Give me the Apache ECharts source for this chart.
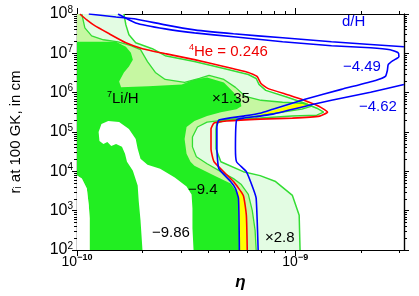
<!DOCTYPE html>
<html><head><meta charset="utf-8">
<script src="https://cdn.jsdelivr.net/npm/echarts@6/dist/echarts.min.js"></script>
<style>html,body{margin:0;padding:0;background:#fff}#c{width:419px;height:296px}</style>
</head><body><div id="c"></div>
<script>
// All contour points are [log10(eta), log10(r_i / cm)]
const li28Contour = [[-9.785,8.000],[-9.776,7.723],[-9.762,7.471],[-9.731,7.269],[-9.655,7.118],[-9.596,6.941],[-9.462,6.790],[-9.327,6.614],[-9.215,6.462],[-9.179,6.361],[-9.166,6.210],[-9.135,6.059],[-9.036,5.883],[-8.969,5.756],[-8.901,5.605],[-8.870,5.504],[-8.901,5.429],[-9.013,5.404],[-9.161,5.353],[-9.314,5.303],[-9.359,5.227],[-9.363,5.076],[-9.363,4.572],[-9.341,4.244],[-9.238,3.992],[-9.161,3.891],[-9.090,3.740],[-9.013,3.387],[-8.982,2.883],[-8.978,2.000]];
const li135Contour = [[-9.978,8.000],[-9.964,7.647],[-9.933,7.445],[-9.879,7.345],[-9.812,7.294],[-9.753,7.193],[-9.709,7.093],[-9.677,6.790],[-9.641,6.513],[-9.596,6.336],[-9.507,6.261],[-9.439,6.361],[-9.395,6.437],[-9.327,6.336],[-9.274,6.135],[-9.229,5.908],[-9.157,5.807],[-9.058,5.756],[-8.969,5.731],[-8.924,5.656],[-8.969,5.580],[-9.058,5.504],[-9.148,5.429],[-9.238,5.353],[-9.327,5.303],[-9.404,5.252],[-9.448,5.126],[-9.471,4.874],[-9.471,4.622],[-9.453,4.370],[-9.404,4.194],[-9.341,3.992],[-9.283,3.815],[-9.247,3.664],[-9.215,3.412],[-9.197,3.009],[-9.184,2.505],[-9.179,2.000]];
const liObsRegion = [[-10,7.294],[-9.821,7.294],[-9.776,7.168],[-9.753,7.017],[-9.744,6.840],[-9.762,6.664],[-9.785,6.513],[-9.807,6.286],[-9.798,6.135],[-9.673,6.160],[-9.520,6.210],[-9.462,6.336],[-9.404,6.387],[-9.327,6.261],[-9.283,6.009],[-9.251,5.782],[-9.247,5.656],[-9.269,5.580],[-9.341,5.504],[-9.404,5.404],[-9.462,5.278],[-9.498,5.126],[-9.507,4.824],[-9.498,4.446],[-9.480,4.244],[-9.462,4.143],[-9.372,3.891],[-9.296,3.689],[-9.269,3.488],[-9.260,3.311],[-9.256,2.000],[-9.942,2.000],[-9.942,2.807],[-9.946,3.135],[-9.955,3.563],[-9.978,3.815],[-10,3.891]];
const liLowHole = [[-9.901,5.000],[-9.888,5.202],[-9.857,5.278],[-9.807,5.252],[-9.762,5.076],[-9.731,4.824],[-9.722,4.572],[-9.709,4.320],[-9.677,4.168],[-9.619,4.068],[-9.552,3.841],[-9.498,3.614],[-9.475,3.412],[-9.471,3.059],[-9.471,2.555],[-9.466,2.000],[-9.700,2.000],[-9.709,2.757],[-9.717,3.236],[-9.722,3.639],[-9.744,4.017],[-9.771,4.244],[-9.780,4.446],[-9.794,4.622],[-9.821,4.698],[-9.843,4.647],[-9.861,4.748],[-9.879,4.698],[-9.897,4.773]];
const liLowCorner = [[-10,3.891],[-9.978,3.815],[-9.955,3.563],[-9.946,3.135],[-9.942,2.807],[-9.942,2.000],[-10,2.000]];
const allowedLow = [[-9.269,3.488],[-9.242,3.488],[-9.229,3.185],[-9.224,2.555],[-9.224,2.000],[-9.256,2.000],[-9.260,3.311]];
const allowedHigh = [[-9.161,5.454],[-9.081,5.580],[-8.991,5.731],[-8.937,5.756],[-8.955,5.630],[-9.036,5.555],[-9.126,5.454],[-9.161,5.404]];
const he246 = [[-9.987,8.000],[-9.955,7.849],[-9.924,7.723],[-9.852,7.496],[-9.776,7.269],[-9.700,7.118],[-9.596,6.992],[-9.462,6.840],[-9.327,6.664],[-9.215,6.513],[-9.175,6.412],[-9.157,6.235],[-9.126,6.109],[-9.027,5.933],[-8.960,5.807],[-8.892,5.656],[-8.852,5.504],[-8.888,5.404],[-9.013,5.353],[-9.161,5.328],[-9.314,5.278],[-9.372,5.227],[-9.386,5.076],[-9.386,4.572],[-9.372,4.244],[-9.283,3.740],[-9.238,3.387],[-9.224,2.883],[-9.220,2.000]];
const dh462Upper = [[-9.946,8.000],[-9.821,7.924],[-9.731,7.874],[-9.596,7.723],[-9.462,7.597],[-9.283,7.496],[-9.058,7.395],[-8.834,7.294],[-8.502,7.168]];
const dh462Lower = [[-8.502,6.210],[-8.655,6.009],[-8.834,5.807],[-8.937,5.681],[-9.103,5.454],[-9.161,5.404],[-9.238,5.353],[-9.269,5.303],[-9.274,4.572],[-9.269,4.244],[-9.224,3.992],[-9.193,3.563],[-9.179,3.311],[-9.170,2.000]];
const dh449 = [[-9.812,8.000],[-9.731,7.773],[-9.596,7.622],[-9.462,7.521],[-9.283,7.420],[-9.058,7.294],[-8.834,7.193],[-8.655,7.143],[-8.565,7.093],[-8.529,7.017],[-8.525,6.916],[-8.552,6.815],[-8.574,6.714],[-8.578,6.563],[-8.587,6.412],[-8.632,6.311],[-8.789,6.084],[-8.955,5.832],[-9.103,5.580],[-9.161,5.479],[-9.238,5.404],[-9.350,5.303],[-9.359,5.126],[-9.359,4.572],[-9.350,4.068],[-9.296,3.740],[-9.274,3.563],[-9.260,3.311],[-9.256,2.000]];
const etaMajor = [1e-10, 1e-9];
const etaMinor = [2e-10,3e-10,4e-10,5e-10,6e-10,7e-10,8e-10,9e-10,2e-9,3e-9];
const rMajor = [1e2,1e3,1e4,1e5,1e6,1e7,1e8];
const rMinor = [];
for (let e = 2; e < 8; e++) for (let k = 2; k <= 9; k++) rMinor.push(k * Math.pow(10, e));

const toXY = p => [Math.pow(10, p[0]), Math.pow(10, p[1])];
const FONT = 'Liberation Sans';
const GREEN = '#22ee22', PALE = '#c6f7a2', LIGHT = '#e3fce3', LINEG = '#33dd33';

function poly(pts, color, z) {
  const d = pts.map(toXY);
  return { type: 'custom', silent: true, z: z, clip: true, data: [d[0]],
    renderItem: (params, api) => ({ type: 'polygon', shape: { points: d.map(q => api.coord(q)) }, style: { fill: color } }) };
}
function line(pts, color, z, w, sm) {
  return { type: 'line', silent: true, z: z, clip: true, symbol: 'none', showSymbol: false, smooth: sm || false,
    data: pts.map(toXY), lineStyle: { color: color, width: w || 1.6 } };
}
const supFmt = v => { const e = Math.log10(v); if (Math.abs(e - Math.round(e)) > 0.01) return ''; return '{b|10}{s|' + String(Math.round(e)).replace('-', '\u2212') + '}'; };

const xBase = { type: 'log', min: 1e-10, max: 3.15e-9, gridIndex: 0, splitLine: { show: false },
  axisLine: { lineStyle: { color: '#000', width: 1.2 } } };
const yBase = { type: 'log', min: 1e2, max: 1e8, gridIndex: 0, splitLine: { show: false },
  axisLine: { lineStyle: { color: '#000', width: 1.2 } } };

const option = {
  animation: false,
  grid: { left: 70, top: 14, width: 334, height: 238 },
  xAxis: [
    Object.assign({}, xBase, { position: 'bottom', name: '\u03b7', nameLocation: 'middle', nameGap: 24,
      nameTextStyle: { fontFamily: FONT, fontSize: 17, fontStyle: 'italic', fontWeight: 'bold', color: '#000' },
      axisTick: { inside: false, length: 6, customValues: etaMajor, lineStyle: { color: '#000' } },
      axisLabel: { customValues: etaMajor, margin: 3, formatter: supFmt, color: '#000', fontFamily: FONT,
        rich: { b: { fontSize: 14, fontFamily: FONT, color: '#000', lineHeight: 18 }, s: { fontSize: 9, fontWeight: 'bold', fontFamily: FONT, color: '#000', verticalAlign: 'top', lineHeight: 10 } } } }),
    Object.assign({}, xBase, { position: 'top', axisTick: { inside: false, length: 6, customValues: etaMajor, lineStyle: { color: '#000' } }, axisLabel: { show: false } }),
    Object.assign({}, xBase, { position: 'bottom', axisTick: { inside: false, length: 3, customValues: etaMinor, lineStyle: { color: '#000' } }, axisLabel: { show: false } }),
    Object.assign({}, xBase, { position: 'top', axisTick: { inside: false, length: 3, customValues: etaMinor, lineStyle: { color: '#000' } }, axisLabel: { show: false } })
  ],
  yAxis: [
    Object.assign({}, yBase, { position: 'left', name: 'r{i|i} at 100 GK, in cm', nameLocation: 'middle', nameGap: 54, nameRotate: 90,
      nameTextStyle: { fontFamily: FONT, fontSize: 15, color: '#000', rich: { i: { fontSize: 10, fontFamily: FONT, color: '#000', verticalAlign: 'bottom', lineHeight: 10 } } },
      axisTick: { inside: false, length: 5, customValues: rMajor, lineStyle: { color: '#000' } },
      axisLabel: { customValues: rMajor, margin: 4, formatter: supFmt, color: '#000',
        rich: { b: { fontSize: 16, fontFamily: FONT, color: '#000', lineHeight: 18 }, s: { fontSize: 10, fontFamily: FONT, color: '#000', verticalAlign: 'top', lineHeight: 10 } } } }),
    Object.assign({}, yBase, { position: 'right', axisTick: { inside: false, length: 5, customValues: rMajor, lineStyle: { color: '#000' } }, axisLabel: { show: false } }),
    Object.assign({}, yBase, { position: 'left', axisTick: { inside: false, length: 3, customValues: rMinor, lineStyle: { color: '#000' } }, axisLabel: { show: false } }),
    Object.assign({}, yBase, { position: 'right', axisTick: { inside: false, length: 3, customValues: rMinor, lineStyle: { color: '#000' } }, axisLabel: { show: false } })
  ],
  series: [
    poly([[-10, 8]].concat(li28Contour, [[-10, 2]]), LIGHT, 1),
    poly([[-10, 8]].concat(li135Contour, [[-10, 2]]), PALE, 2),
    poly(liObsRegion, GREEN, 3),
    poly(liLowHole, '#ffffff', 4),
    poly(liLowCorner, '#ffffff', 4),
    poly(allowedLow, '#ffff00', 5),
    poly(allowedHigh, '#ffff00', 5),
    line(li28Contour, LINEG, 6, 1.5),
    line(li135Contour, LINEG, 6, 1.3),
    line(he246, '#ff0000', 7, 1.6, 0.15),
    line(dh462Upper, '#0000ff', 8, 1.6, 0.15),
    line(dh462Lower, '#0000ff', 8, 1.6, 0.15),
    line(dh449, '#0000ff', 8, 1.6, 0.15)
  ],
  graphic: [
    { type: 'text', x: 342, y: 22, z: 100, style: { text: 'd/H', fill: '#0000ee', font: '15px "Liberation Sans"', verticalAlign: 'middle' } },
    { type: 'text', x: 189, y: 52, z: 100, style: { text: '{s|4}{n|He = 0.246}', fill: '#ee0000', font: '15px "Liberation Sans"', verticalAlign: 'middle',
      rich: { s: { fontSize: 9, fontFamily: FONT, fill: '#ee0000', verticalAlign: 'top', lineHeight: 9 }, n: { fontSize: 15, fontFamily: FONT, fill: '#ee0000', lineHeight: 17 } } } },
    { type: 'text', x: 343, y: 67, z: 100, style: { text: '\u22124.49', fill: '#0000ee', font: '15px "Liberation Sans"', verticalAlign: 'middle' } },
    { type: 'text', x: 359, y: 107, z: 100, style: { text: '\u22124.62', fill: '#0000ee', font: '15px "Liberation Sans"', verticalAlign: 'middle' } },
    { type: 'text', x: 107, y: 99, z: 100, style: { text: '{s|7}{n|Li/H}', fill: '#000', font: '15px "Liberation Sans"', verticalAlign: 'middle',
      rich: { s: { fontSize: 9, fontFamily: FONT, fill: '#000', verticalAlign: 'top', lineHeight: 9 }, n: { fontSize: 15, fontFamily: FONT, fill: '#000', lineHeight: 17 } } } },
    { type: 'text', x: 212, y: 99, z: 100, style: { text: '\u00d71.35', fill: '#000', font: '15px "Liberation Sans"', verticalAlign: 'middle' } },
    { type: 'text', x: 188, y: 190, z: 100, style: { text: '\u22129.4', fill: '#000', font: '15px "Liberation Sans"', verticalAlign: 'middle' } },
    { type: 'text', x: 152, y: 233, z: 100, style: { text: '\u22129.86', fill: '#000', font: '15px "Liberation Sans"', verticalAlign: 'middle' } },
    { type: 'text', x: 265, y: 238, z: 100, style: { text: '\u00d72.8', fill: '#000', font: '15px "Liberation Sans"', verticalAlign: 'middle' } }
  ]
};
option.series.forEach(s => { s.xAxisIndex = 0; s.yAxisIndex = 0; });
const chart = echarts.init(document.getElementById('c'), null, { renderer: 'canvas' });
chart.setOption(option);
</script></body></html>
